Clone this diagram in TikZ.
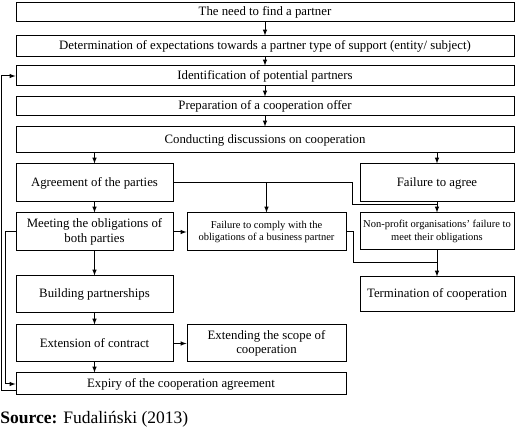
\documentclass[tikz,border=0pt]{standalone}
\usepackage{fontspec}
\setmainfont{Liberation Serif}
\usepackage{tikz}

\begin{document}
\begin{tikzpicture}[x=1pt,y=-1pt,line width=1pt,
    box/.style={draw,inner sep=1pt,align=center,font=\fontsize{12.8}{14.5}\selectfont},
    wide/.style={box,minimum width=498pt},
    half/.style={box,minimum width=157pt,minimum height=38pt},
    small/.style={half,font=\fontsize{10.5}{12.5}\selectfont},
    arr/.style={-latex}]
\useasboundingbox (0,0) rectangle (520,430);
\node[wide,minimum height=19pt] (need) at (265,12.5) {The need to find a partner};
\node[wide,minimum height=21pt] (determ) at (265,46.5) {Determination of expectations towards a partner type of support (entity/ subject)};
\node[wide,minimum height=20pt] (ident) at (265,76) {Identification of potential partners};
\node[wide,minimum height=19pt] (prep) at (265,106.5) {Preparation of a cooperation offer};
\node[wide,minimum height=26pt] (conduct) at (265,140) {Conducting discussions on cooperation};
\node[half] (agree) at (94.5,183) {Agreement of the parties};
\node[half,minimum width=154pt] (fagree) at (437,183) {Failure to agree};
\node[half] (meet) at (94.5,232) {Meeting the obligations of\\both parties};
\node[small,minimum width=159pt] (fcomply) at (266.5,232) {Failure to comply with the\\obligations of a business partner};
\node[small,minimum width=154pt,minimum height=37pt] (nonprofit) at (437,231.5) {Non-profit organisations' failure to\\meet their obligations};
\node[half,minimum height=37pt] (build) at (94.5,294.5) {Building partnerships};
\node[half,minimum width=154pt,minimum height=35pt] (term) at (437,294.5) {Termination of cooperation};
\node[half,minimum height=37pt] (extend) at (94.5,343.5) {Extension of contract};
\node[half,minimum width=159pt,minimum height=37pt] (scope) at (266.5,343.5) {Extending the scope of\\cooperation};
\node[box,minimum width=330pt,minimum height=22pt] (expiry) at (181,384) {Expiry of the cooperation agreement};
\node[anchor=base west,inner sep=0pt,font=\fontsize{17.5}{20}\selectfont] (source) at (0,424) {\textbf{Source:} Fudaliński (2013)};
\coordinate (joinA) at (352,205);
\coordinate (joinB) at (353,263);
\coordinate (loopin) at (5,0);
\coordinate (loopout) at (1,0);
\draw[arr] (need) -- (determ);
\draw[arr] (determ) -- (ident);
\draw[arr] (ident) -- (prep);
\draw[arr] (prep) -- (conduct);
\draw[arr] (conduct.south -| agree) -- (agree);
\draw[arr] (conduct.south -| fagree) -- (fagree);
\draw[arr] (agree) -- (meet);
\draw[arr] (fagree) -- (nonprofit);
\draw (agree.east) -| (joinA) -- (joinA -| nonprofit);
\draw[arr] (agree.east -| fcomply) -- (fcomply);
\draw[arr] (meet) -- (fcomply);
\draw[arr] (nonprofit) -- (term);
\draw (fcomply.east) -| (joinB) -- (joinB -| term);
\draw[arr] (meet) -- (build);
\draw[arr] (build) -- (extend);
\draw[arr] (extend) -- (scope);
\draw[arr] (extend) -- (extend |- expiry.north);
\draw[arr] (meet.west) -| (loopin |- expiry.west) -- (expiry.west);
\draw[arr] ([yshift=-7pt]expiry.west) -| (loopout |- ident.west) -- (ident.west);
\end{tikzpicture}
\end{document}
